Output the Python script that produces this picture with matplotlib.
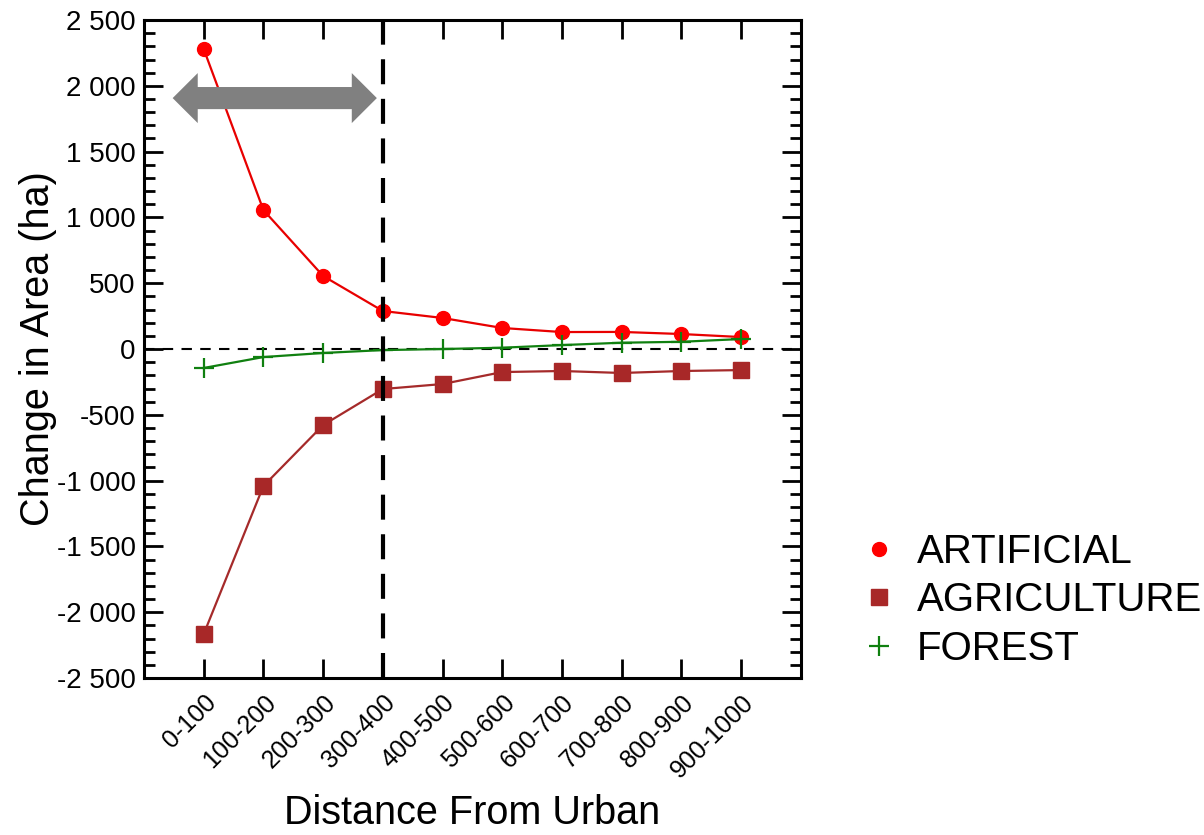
import matplotlib
matplotlib.use("Agg")
import matplotlib.pyplot as plt
import numpy as np
from matplotlib.patches import Polygon
from matplotlib.ticker import FuncFormatter, MultipleLocator

plt.rcParams["font.family"] = ["Liberation Sans", "DejaVu Sans"]

# ---- Data
categories = ["0-100", "100-200", "200-300", "300-400", "400-500",
              "500-600", "600-700", "700-800", "800-900", "900-1000"]
artificial = [2280, 1056, 555, 289, 236, 160, 129, 130, 114, 91]
agriculture = [-2166, -1041, -578, -304, -266, -175, -167, -182, -167, -160]
forest = [-144, -61, -30, -8, 0, 10, 30, 48, 55, 76]
threshold_category = 4  # 300-400 boundary
arrow_span = (0.48, 3.9)
arrow_y = 1907


def thousands(v, _pos):
    return f"{int(round(v)):,}".replace(",", " ")


def main():
    fig = plt.figure(figsize=(12.04, 8.35), dpi=100)
    ax = fig.add_axes([0.1196, 0.188, 0.5455, 0.788])

    x = np.arange(1, len(categories) + 1)

    # zero line
    ax.axhline(0, color="black", linewidth=1.5, dashes=(5, 4), zorder=1)

    ax.plot(x, artificial, color="#e80000", linewidth=1.6, marker="o",
            markersize=10, markerfacecolor="#ff0000", markeredgecolor="#ff0000",
            label="ARTIFICIAL", zorder=3)
    ax.plot(x, agriculture, color="#a52a2a", linewidth=1.6, marker="s",
            markersize=11, markerfacecolor="#a82828", markeredgecolor="#a82828",
            label="AGRICULTURE", zorder=3)
    ax.plot(x, forest, color="#108010", linewidth=1.6, marker="+",
            markersize=15, markeredgewidth=1.6, label="FOREST", zorder=3)

    # threshold line
    ax.axvline(threshold_category, color="black", linewidth=3,
               dashes=(6, 3.5), zorder=4)

    # gray double arrow
    x0, x1 = arrow_span
    hl = 0.42      # head length (data x)
    bh = 84        # body half height (data y)
    hh = 190       # head half height (data y)
    pts = [
        (x0, arrow_y), (x0 + hl, arrow_y + hh), (x0 + hl, arrow_y + bh),
        (x1 - hl, arrow_y + bh), (x1 - hl, arrow_y + hh), (x1, arrow_y),
        (x1 - hl, arrow_y - hh), (x1 - hl, arrow_y - bh),
        (x0 + hl, arrow_y - bh), (x0 + hl, arrow_y - hh),
    ]
    ax.add_patch(Polygon(pts, closed=True, facecolor="#808080",
                         edgecolor="none", zorder=5))

    ax.set_xlim(0, len(categories) + 1)
    ax.set_ylim(-2500, 2500)
    ax.set_xticks(x)
    ax.set_xticklabels(categories, rotation=45, ha="right",
                       rotation_mode="anchor", fontsize=18)
    ax.yaxis.set_major_locator(MultipleLocator(500))
    ax.yaxis.set_minor_locator(MultipleLocator(100))
    ax.yaxis.set_major_formatter(FuncFormatter(thousands))
    ax.tick_params(axis="y", labelsize=20, pad=6)
    ax.tick_params(axis="x", pad=9)
    ax.tick_params(which="major", direction="in", length=14, width=2,
                   top=True, right=True)
    ax.tick_params(which="minor", direction="in", length=8, width=2,
                   left=True, right=True)
    for sp in ax.spines.values():
        sp.set_linewidth(2.2)

    ax.set_xlabel("Distance From Urban", fontsize=28.5, labelpad=8)
    ax.set_ylabel("Change in Area (ha)", fontsize=28.5, labelpad=0)

    leg = ax.legend(loc="center left", bbox_to_anchor=(1.07, 0.118),
                    frameon=False, fontsize=29, handlelength=0.8,
                    handletextpad=0.55, labelspacing=0.26, borderaxespad=0)
    for line in leg.get_lines():
        line.set_linestyle("none")

    fig.savefig("out.png", dpi=100)


if __name__ == "__main__":
    main()
